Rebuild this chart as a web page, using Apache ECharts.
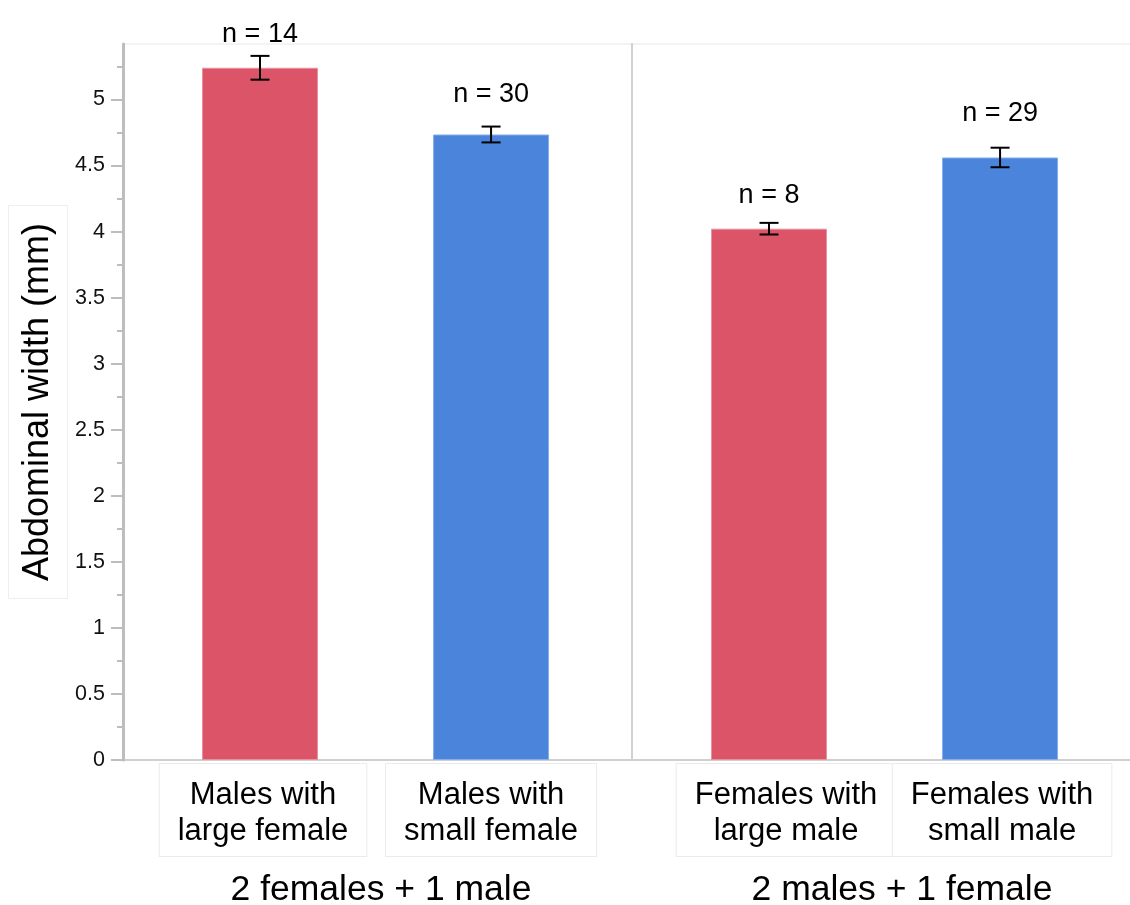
<!DOCTYPE html>
<html>
<head>
<meta charset="utf-8">
<script src="https://cdn.jsdelivr.net/npm/echarts@6/dist/echarts.min.js"></script>
<style>html,body{margin:0;padding:0;background:#fff;}#chart{width:1130px;height:905px;}</style>
</head>
<body>
<div id="chart"></div>
<script>
// ---- data ----
const categories = ['Males with\nlarge female', 'Males with\nsmall female', 'Females with\nlarge male', 'Females with\nsmall male'];
const groups = ['2 females + 1 male', '2 males + 1 female'];
const means = [5.24, 4.735, 4.022, 4.561];
const errors = [0.09, 0.06, 0.044, 0.074];
const sampleSizes = [14, 30, 8, 29];
const panelOfBar = [0, 0, 1, 1];
const yMajorTicks = [0, 0.5, 1, 1.5, 2, 2.5, 3, 3.5, 4, 4.5, 5];
const yMinorTicks = [0.25, 0.75, 1.25, 1.75, 2.25, 2.75, 3.25, 3.75, 4.25, 4.75, 5.25];
const yMax = 5.42;

// ---- layout/style ----
const FONT = "'Liberation Sans', Arial, Helvetica, sans-serif";
const red = '#db5468', blue = '#4a84db';
const barColors = [red, blue, red, blue];
const barEdge = ['#e8909c', '#86aeea', '#e8909c', '#86aeea'];
const nLabelLift = [21, 32, 27, 34];
const catLabelShift = [3, 0, 17, 2];
const AXIS_GRAY = '#bdbdbd';

function panelBars(p) {
  const out = [];
  let k = 0;
  means.forEach((m, i) => {
    if (panelOfBar[i] !== p) return;
    out.push({
      value: [k, m],
      itemStyle: { color: barColors[i], borderColor: barEdge[i], borderWidth: 1 },
      label: { offset: [catLabelShift[i], 0] },
      catName: categories[i]
    });
    k++;
  });
  return out;
}
function panelErr(p) {
  const out = [];
  let k = 0;
  means.forEach((m, i) => {
    if (panelOfBar[i] !== p) return;
    out.push([k, m, errors[i], sampleSizes[i], nLabelLift[i]]);
    k++;
  });
  return out;
}

const chart = echarts.init(document.getElementById('chart'), null, { renderer: 'canvas' });

function xAxisFor(p) {
  return {
    type: 'value', gridIndex: p, min: -0.593, max: 1.61,
    axisLine: { show: true, onZero: false, lineStyle: { color: '#d0d0d0', width: 2 } },
    axisTick: { show: false }, axisLabel: { show: false }, splitLine: { show: false },
    name: groups[p], nameLocation: 'middle', nameGap: 112, nameMoveOverlap: false,
    nameTextStyle: { fontSize: 35.5, color: '#000', fontFamily: FONT, padding: p === 0 ? [0, 0, 0, 7] : [0, 0, 0, 31] }
  };
}

const yAxes = [
  {
    type: 'value', gridIndex: 0, min: 0, max: yMax, position: 'left',
    splitLine: { show: false },
    axisLine: { show: true, onZero: false, lineStyle: { color: AXIS_GRAY, width: 3 } },
    axisTick: { show: true, length: 12, customValues: yMajorTicks, lineStyle: { color: AXIS_GRAY, width: 2 } },
    axisLabel: { show: true, customValues: yMajorTicks, fontSize: 21.5, color: '#111', fontFamily: FONT, margin: 18 },
    name: 'Abdominal width (mm)', nameLocation: 'middle', nameGap: 56, nameRotate: 90, nameMoveOverlap: false,
    nameTextStyle: { fontSize: 36, color: '#000', fontFamily: FONT,
      borderColor: '#eeeeee', borderWidth: 1, padding: [11, 17, 11, 17], backgroundColor: '#fff' },
    z: 3
  },
  {
    type: 'value', gridIndex: 1, min: 0, max: yMax, position: 'left',
    splitLine: { show: false },
    axisLine: { show: true, onZero: false, lineStyle: { color: '#d0d0d0', width: 2 } },
    axisTick: { show: false }, axisLabel: { show: false }
  },
  {
    type: 'value', gridIndex: 0, min: 0, max: yMax, position: 'left', offset: 0,
    splitLine: { show: false },
    axisLine: { show: false, onZero: false },
    axisTick: { show: true, length: 6, customValues: yMinorTicks, lineStyle: { color: AXIS_GRAY, width: 2 } },
    axisLabel: { show: false }
  }
];

function barSeries(p) {
  return {
    type: 'bar', xAxisIndex: p, yAxisIndex: p, barWidth: 116,
    data: panelBars(p),
    label: {
      show: true, position: 'bottom', distance: 4,
      formatter: (d) => d.data.catName,
      fontSize: 31, lineHeight: 36, color: '#000', fontFamily: FONT, align: 'center',
      borderColor: '#ebebeb', borderWidth: 1, padding: [13, 18, 7, 18], backgroundColor: '#fff'
    },
    silent: true, z: 2
  };
}

function errSeries(p) {
  return {
    type: 'custom', xAxisIndex: p, yAxisIndex: p, clip: false, z: 5,
    data: panelErr(p),
    renderItem: function (params, api) {
      const x = api.value(0), m = api.value(1), e = api.value(2), n = api.value(3), lift = api.value(4);
      const top = api.coord([x, m + e]);
      const bot = api.coord([x, m - e]);
      const half = 9.5;
      const st = { stroke: '#000', lineWidth: 2 };
      return {
        type: 'group',
        children: [
          { type: 'line', shape: { x1: top[0], y1: top[1], x2: bot[0], y2: bot[1] }, style: st },
          { type: 'line', shape: { x1: top[0] - half, y1: top[1], x2: top[0] + half, y2: top[1] }, style: st },
          { type: 'line', shape: { x1: bot[0] - half, y1: bot[1], x2: bot[0] + half, y2: bot[1] }, style: st },
          { type: 'text', style: { text: 'n = ' + n, x: top[0], y: top[1] - lift, align: 'center', verticalAlign: 'middle',
            fontSize: 27, fontFamily: FONT, fill: '#000' } }
        ]
      };
    }
  };
}

chart.setOption({
  animation: false,
  backgroundColor: '#fff',
  grid: [
    { left: 123, top: 44, width: 509, height: 716, show: true, borderColor: '#e8e8e8', borderWidth: 1, containLabel: false, outerBoundsMode: 'none' },
    { left: 632, top: 44, width: 509, height: 716, show: true, borderColor: '#e8e8e8', borderWidth: 1, containLabel: false, outerBoundsMode: 'none' }
  ],
  xAxis: [xAxisFor(0), xAxisFor(1)],
  yAxis: yAxes,
  series: [barSeries(0), barSeries(1), errSeries(0), errSeries(1)]
});
</script>
</body>
</html>
